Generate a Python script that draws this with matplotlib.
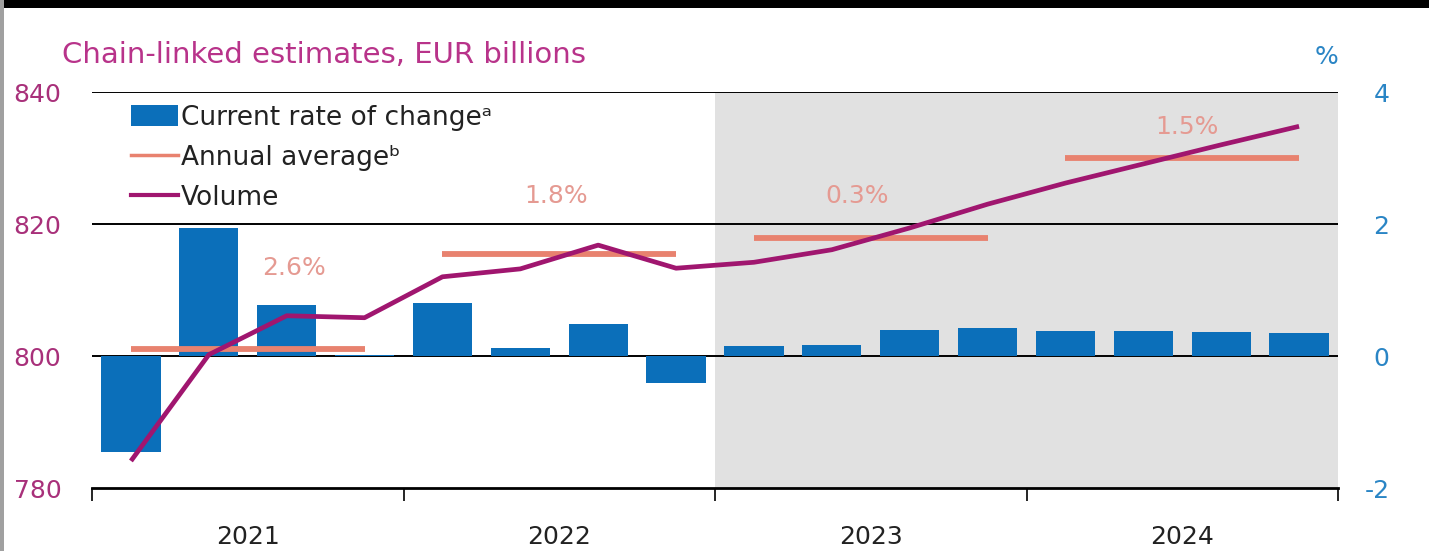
import matplotlib
matplotlib.use("Agg")
import matplotlib.pyplot as plt
from matplotlib.patches import Rectangle, Patch
from matplotlib.lines import Line2D

plt.rcParams['font.family'] = ['DejaVu Sans']

# Quarterly data 2021Q1 - 2024Q4
quarters = ["2021Q1", "2021Q2", "2021Q3", "2021Q4",
            "2022Q1", "2022Q2", "2022Q3", "2022Q4",
            "2023Q1", "2023Q2", "2023Q3", "2023Q4",
            "2024Q1", "2024Q2", "2024Q3", "2024Q4"]
rate_of_change = [-1.45, 1.94, 0.77, 0.02,
                  0.80, 0.12, 0.48, -0.41,
                  0.15, 0.17, 0.39, 0.42,
                  0.38, 0.38, 0.36, 0.35]
volume = [784.1, 800.2, 806.1, 805.8,
          812.0, 813.2, 816.8, 813.3,
          814.2, 816.1, 819.4, 823.0,
          826.2, 829.1, 832.0, 834.8]
years = ["2021", "2022", "2023", "2024"]
annual_average = [801.0, 815.5, 817.9, 830.0]
annual_growth = ["2.6%", "1.8%", "0.3%", "1.5%"]

left_ticks = [780, 800, 820, 840]
right_ticks = [-2, 0, 2, 4]

BAR_COLOR = "#0b6fba"
VOL_COLOR = "#a0166f"
AVG_COLOR = "#e8826f"
AVG_TEXT = "#e59a92"
LEFT_COLOR = "#a8307a"
RIGHT_COLOR = "#2a85c5"
TITLE_COLOR = "#b8338a"
FS = 18

fig = plt.figure(figsize=(14.29, 5.51), dpi=100)
ax = fig.add_axes([92 / 1429, 1 - 488 / 551, 1246 / 1429, 396 / 551])
ax2 = ax.twinx()

x = list(range(len(quarters)))

# forecast shading
ax.axvspan(7.5, 15.5, color="#e1e1e1", zorder=0, lw=0)

# horizontal reference lines
for v in right_ticks[1:]:
    ax.axhline(v, color="black", lw=1.4, zorder=1)

# bars: quarterly rate of change (percent scale)
ax.bar(x, rate_of_change, width=0.76, color=BAR_COLOR, zorder=2)
ax.set_ylim(-2, 4)
ax.set_xlim(-0.5, 15.5)

# volume line and annual averages (EUR billions scale)
ax2.plot(x, volume, color=VOL_COLOR, lw=3.4, zorder=4, solid_capstyle="butt")
for i, avg in enumerate(annual_average):
    x0, x1 = 4 * i, 4 * i + 3
    ax2.plot([x0, x1], [avg, avg], color=AVG_COLOR, lw=4.2, zorder=3,
             solid_capstyle="butt")
ax2.set_ylim(780, 840)

label_pos = [(2.09, 813.3), (5.46, 824.2), (9.32, 824.2), (13.56, 834.7)]
for (lx, ly), lab in zip(label_pos, annual_growth):
    ax2.text(lx, ly, lab, color=AVG_TEXT, fontsize=FS, ha="center", va="center",
             zorder=5)

# axis styling: volume scale on the left, percent scale on the right
ax.yaxis.tick_right()
ax2.yaxis.tick_left()
ax.set_yticks(right_ticks)
ax.set_yticklabels([str(t) for t in right_ticks])
ax2.set_yticks(left_ticks)
ax2.set_yticklabels([str(t) for t in left_ticks])
ax.tick_params(axis="y", length=0, pad=37, labelsize=FS, labelcolor=RIGHT_COLOR)
for t in ax.get_yticklabels():
    t.set_horizontalalignment("right")
ax2.tick_params(axis="y", length=0, pad=22, labelsize=FS, labelcolor=LEFT_COLOR)

ax.set_xticks([1.5, 5.5, 9.5, 13.5])
ax.set_xticklabels(years)
ax.set_xticks([-0.5, 3.5, 7.5, 11.5, 15.5], minor=True)
ax.tick_params(axis="x", which="major", length=0, pad=27, labelsize=FS,
               labelcolor="#222222")
ax.tick_params(axis="x", which="minor", length=9, width=1.2, direction="out",
               color="black")

for a in (ax, ax2):
    for side in ("top", "left", "right", "bottom"):
        a.spines[side].set_visible(False)
ax.spines["bottom"].set_visible(True)
ax.spines["bottom"].set_linewidth(2.0)
ax.spines["bottom"].set_color("black")
ax.spines["bottom"].set_zorder(6)

# legend
handles = [Patch(facecolor=BAR_COLOR, edgecolor="none"),
           Line2D([], [], color=AVG_COLOR, lw=2.5),
           Line2D([], [], color=VOL_COLOR, lw=3.0)]
labels = ["Current rate of change\u1d43", "Annual average\u1d47", "Volume"]
leg = ax2.legend(handles, labels, loc="upper left",
                 bbox_to_anchor=(0.031, 0.967), frameon=False, fontsize=19,
                 handlelength=1.8, handleheight=0.85, handletextpad=0.1,
                 labelspacing=0.52, borderaxespad=0, borderpad=0)
leg.set_zorder(7)
for t in leg.get_texts():
    t.set_color("#222222")

# titles
fig.text(62 / 1429, 1 - 55 / 551, "Chain-linked estimates, EUR billions",
         color=TITLE_COLOR, fontsize=21, ha="left", va="center")
fig.text(1326 / 1429, 1 - 57 / 551, "%", color=RIGHT_COLOR, fontsize=FS,
         ha="center", va="center")

# frame decoration
fig.patches.append(Rectangle((0, 1 - 8 / 551), 1, 8 / 551, transform=fig.transFigure,
                             facecolor="black", edgecolor="none", zorder=10))
fig.patches.append(Rectangle((0, 0), 4 / 1429, 1, transform=fig.transFigure,
                             facecolor="#a0a0a0", edgecolor="none", zorder=10))

fig.savefig("out.png", dpi=100)
